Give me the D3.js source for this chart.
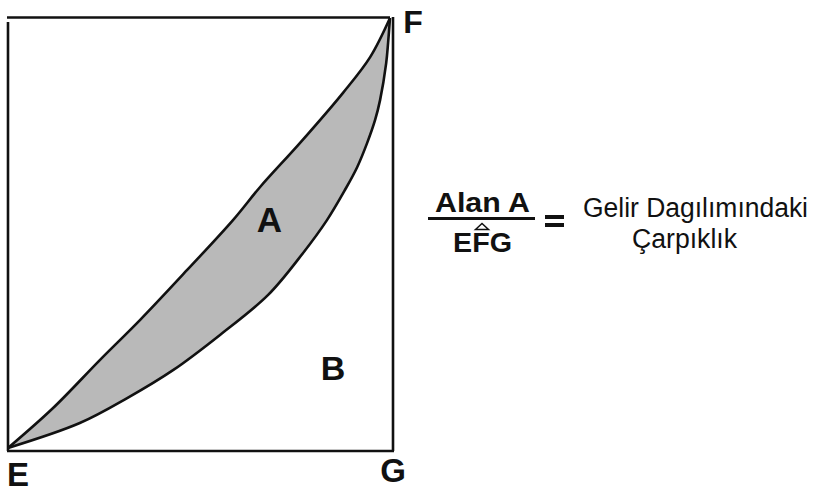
<!DOCTYPE html>
<html>
<head>
<meta charset="utf-8">
<script src="https://cdn.jsdelivr.net/npm/d3@7"></script>
<style>
  body { margin: 0; background: #fff; }
  text { font-family: Arial, "Liberation Sans", sans-serif; fill: #111; }
</style>
</head>
<body>
<svg id="chart" width="815" height="491"></svg>
<script>
// cumulative share of population (x) vs share of income (y)
const upperX = [0, 0.118, 0.241, 0.346, 0.469, 0.589, 0.660, 0.764, 0.877, 0.948, 1];
const upperY = [0, 0.093, 0.205, 0.298, 0.414, 0.530, 0.607, 0.709, 0.826, 0.909, 1];

const lowerX = [0, 0.188, 0.312, 0.432, 0.555, 0.681, 0.772, 0.835, 0.882, 0.914, 0.940, 0.961, 0.974, 0.990, 0.995, 1];
const lowerY = [0, 0.058, 0.116, 0.181, 0.263, 0.356, 0.453, 0.530, 0.600, 0.653, 0.709, 0.763, 0.809, 0.895, 0.942, 1];

const cornerLabels = ['E', 'F', 'G'];
const areaLabels = ['A', 'B'];

const upper = upperX.map((x, i) => ({ x: x, y: upperY[i] }));
const lower = lowerX.map((x, i) => ({ x: x, y: lowerY[i] }));

const svg = d3.select('#chart');

const x = d3.scaleLinear().domain([0, 1]).range([8, 390]);
const y = d3.scaleLinear().domain([0, 1]).range([448, 18]);

const curve = d3.curveCatmullRom.alpha(0.5);

// shaded region between the two curves
const area = d3.area()
  .x(d => x(d.x))
  .y0(y(0))
  .y1(d => y(d.y))
  .curve(curve);

svg.append('path')
  .attr('d', area(upper))
  .attr('fill', '#b9b9b9');

svg.append('path')
  .attr('d', area(lower))
  .attr('fill', '#fff');

// box
const box = svg.append('g')
  .attr('stroke', '#111')
  .attr('stroke-width', 2.6)
  .attr('fill', 'none');

box.append('line').attr('x1', x(0) - 1).attr('y1', y(1) - 0.5).attr('x2', x(1)).attr('y2', y(1) - 0.5);
box.append('line').attr('x1', x(0)).attr('y1', y(1) + 4).attr('x2', x(0)).attr('y2', y(0) + 3);
box.append('line').attr('x1', x(0) - 1).attr('y1', y(0) + 3).attr('x2', x(1) + 4).attr('y2', y(0) + 3);
box.append('line').attr('x1', x(1) + 3).attr('y1', y(1) - 1).attr('x2', x(1) + 3).attr('y2', y(0) + 3);

const line = d3.line()
  .x(d => x(d.x))
  .y(d => y(d.y))
  .curve(curve);

svg.append('path')
  .attr('d', line(upper))
  .attr('fill', 'none')
  .attr('stroke', '#111')
  .attr('stroke-width', 2.6);

svg.append('path')
  .attr('d', line(lower))
  .attr('fill', 'none')
  .attr('stroke', '#111')
  .attr('stroke-width', 2.6);

// corner labels
const cornerPos = [
  { px: x(0) + 10, py: y(0) + 38, size: 33 },
  { px: x(1) + 23, py: y(1) + 15, size: 32 },
  { px: x(1) + 3, py: y(0) + 34, size: 33 }
];
cornerLabels.forEach((t, i) => {
  svg.append('text')
    .attr('x', cornerPos[i].px)
    .attr('y', cornerPos[i].py)
    .attr('text-anchor', 'middle')
    .attr('font-weight', 'bold')
    .attr('font-size', cornerPos[i].size)
    .text(t);
});

// area labels
const areaPos = [
  { px: x(0.684), py: y(0.502), size: 35 },
  { px: x(0.851), py: y(0.158), size: 34 }
];
areaLabels.forEach((t, i) => {
  svg.append('text')
    .attr('x', areaPos[i].px)
    .attr('y', areaPos[i].py)
    .attr('text-anchor', 'middle')
    .attr('font-weight', 'bold')
    .attr('font-size', areaPos[i].size)
    .text(t);
});

// formula
const f = svg.append('g');
f.append('text')
  .attr('x', 482.5).attr('y', 212)
  .attr('text-anchor', 'middle')
  .attr('font-weight', 'bold')
  .attr('font-size', 27)
  .attr('textLength', 95)
  .attr('lengthAdjust', 'spacingAndGlyphs')
  .text('Alan A');

f.append('line')
  .attr('x1', 428).attr('x2', 535)
  .attr('y1', 218.5).attr('y2', 218.5)
  .attr('stroke', '#111')
  .attr('stroke-width', 3);

f.append('text')
  .attr('x', 482.5).attr('y', 252)
  .attr('text-anchor', 'middle')
  .attr('font-weight', 'bold')
  .attr('font-size', 27)
  .attr('textLength', 59)
  .attr('lengthAdjust', 'spacingAndGlyphs')
  .text('EFG');

f.append('path')
  .attr('d', 'M475.5,229.5 L482,223.5 L488.5,229.5 Z')
  .attr('fill', 'none')
  .attr('stroke', '#111')
  .attr('stroke-width', 1.5);

f.append('rect').attr('x', 545).attr('y', 215).attr('width', 19).attr('height', 4).attr('fill', '#111');
f.append('rect').attr('x', 545).attr('y', 223).attr('width', 19).attr('height', 4).attr('fill', '#111');

f.append('text')
  .attr('x', 583).attr('y', 217)
  .attr('font-size', 27)
  .attr('textLength', 225)
  .attr('lengthAdjust', 'spacingAndGlyphs')
  .text('Gelir Dagılımındaki');

f.append('text')
  .attr('x', 632).attr('y', 248)
  .attr('font-size', 27)
  .attr('textLength', 105)
  .attr('lengthAdjust', 'spacingAndGlyphs')
  .text('Çarpıklık');
</script>
</body>
</html>
